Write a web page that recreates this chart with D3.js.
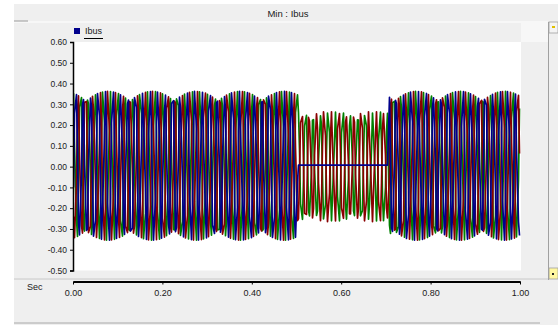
<!DOCTYPE html>
<html>
<head>
<meta charset="utf-8">
<script src="https://cdn.jsdelivr.net/npm/d3@7"></script>
<style>
  html, body { margin: 0; padding: 0; background: #ffffff; }
  svg { display: block; }
  text { font-family: "Liberation Sans", Arial, sans-serif; fill: #202020; }
</style>
</head>
<body>
<svg id="chart" width="558" height="325"></svg>
<script>
// ---------------- data ----------------
const chartTitle = "Min : Ibus";
const legendLabel = "Ibus";
const xAxisName = "Sec";
const xTicks = [0.00, 0.20, 0.40, 0.60, 0.80, 1.00];
const xTickLabels = ["0.00", "0.20", "0.40", "0.60", "0.80", "1.00"];
const yTicks = [0.60, 0.50, 0.40, 0.30, 0.20, 0.10, 0.00, -0.10, -0.20, -0.30, -0.40, -0.50];
const yTickLabels = ["0.60", "0.50", "0.40", "0.30", "0.20", "0.10", "0.00", "-0.10", "-0.20", "-0.30", "-0.40", "-0.50"];

// system frequency (Hz) and the plot's sampling rate of the trace (samples/s)
const freqHz = 60;
const plotSampleRate = 349.85;

// segments: pre-fault, open blue phase, post-fault (start times, s)
const segmentStart = [0.000, 0.501, 0.705];
// per-segment peak amplitude (kA), phase angle (deg) and dc offset (kA)
const ampRed     = [0.358, 0.265, 0.358];
const ampGreen   = [0.358, 0.262, 0.358];
const ampBlue    = [0.358, 0.000, 0.358];
const angleRed   = [-137, -137, -137];
const angleGreen = [103,   33,  103];
const angleBlue  = [-17,    0,  -17];
const offsetRed   = [0.004, 0.000, 0.004];
const offsetGreen = [0.004, 0.000, 0.004];
const offsetBlue  = [0.004, 0.007, 0.004];

const seriesColors = { red: "#8a0000", green: "#008000", blue: "#00008c" };

// ---------------- layout ----------------
const svg = d3.select("#chart");
const plot = { left: 73, right: 520, top: 42, bottom: 270.5 };

const x = d3.scaleLinear().domain([0, 1]).range([plot.left, plot.right]);
const y = d3.scaleLinear().domain([-0.5, 0.6]).range([plot.bottom, plot.top]);

// panel background
svg.append("rect").attr("x", 14).attr("y", 4).attr("width", 544).attr("height", 321).attr("fill", "#efefef");
svg.append("line").attr("x1", 14).attr("x2", 548).attr("y1", 22).attr("y2", 22).attr("stroke", "#ffffff").attr("stroke-width", 1);
svg.append("line").attr("x1", 14).attr("x2", 28).attr("y1", 21).attr("y2", 21).attr("stroke", "#9a9a9a").attr("stroke-width", 1);
svg.append("rect").attr("x", 521).attr("y", 22.5).attr("width", 27).attr("height", 19.5).attr("fill", "#f7f7f7");

// title
svg.append("text").attr("x", 288).attr("y", 14).attr("text-anchor", "middle")
  .attr("dominant-baseline", "middle").attr("font-size", 9.5).text(chartTitle);

// plot area
svg.append("rect").attr("x", plot.left).attr("y", plot.top)
  .attr("width", plot.right - plot.left + 1).attr("height", plot.bottom - plot.top)
  .attr("fill", "#ffffff");

// legend
svg.append("rect").attr("x", 74).attr("y", 28).attr("width", 6).attr("height", 6).attr("fill", seriesColors.blue);
svg.append("text").attr("x", 85).attr("y", 32).attr("dominant-baseline", "middle")
  .attr("font-size", 9).text(legendLabel);
svg.append("line").attr("x1", 84).attr("x2", 103).attr("y1", 38.5).attr("y2", 38.5)
  .attr("stroke", "#000000").attr("stroke-width", 1);

// scrollbar on the right
svg.append("line").attr("x1", 548.5).attr("x2", 548.5).attr("y1", 22).attr("y2", 280).attr("stroke", "#a0a0a0");
svg.append("rect").attr("x", 549).attr("y", 22).attr("width", 9).attr("height", 11).attr("fill", "#f4f4f4").attr("stroke", "#a0a0a0").attr("stroke-width", 0.8);
svg.append("rect").attr("x", 552).attr("y", 26).attr("width", 3).attr("height", 2).attr("fill", "#e0c000");
svg.append("rect").attr("x", 549).attr("y", 268).attr("width", 9).attr("height", 11).attr("fill", "#fff7a0").attr("stroke", "#a0a0a0").attr("stroke-width", 0.8);
svg.append("rect").attr("x", 552).attr("y", 273).attr("width", 2).attr("height", 2).attr("fill", "#202020");

// bottom separators
svg.append("line").attr("x1", 14).attr("x2", 548).attr("y1", 279).attr("y2", 279).attr("stroke", "#c8c8c8");
svg.append("line").attr("x1", 14).attr("x2", 540).attr("y1", 323).attr("y2", 323).attr("stroke", "#a8a8a8");

// ---------------- waveforms (sampled at the plot rate) ----------------
const segmentOf = t => d3.bisectRight(segmentStart, t) - 1;
const sampleTimes = d3.range(0, Math.floor(plotSampleRate) + 1).map(k => k / plotSampleRate).filter(t => t <= 1);

function trace(amps, angles, offsets) {
  return sampleTimes.map(t => {
    const s = segmentOf(t);
    return [t, offsets[s] + amps[s] * Math.sin(2 * Math.PI * freqHz * t + angles[s] * Math.PI / 180)];
  });
}
const series = [
  { name: "green", data: trace(ampGreen, angleGreen, offsetGreen) },
  { name: "red",   data: trace(ampRed, angleRed, offsetRed) },
  { name: "blue",  data: trace(ampBlue, angleBlue, offsetBlue) }
];

svg.append("clipPath").attr("id", "clip").append("rect")
  .attr("x", plot.left).attr("y", plot.top)
  .attr("width", plot.right - plot.left + 1).attr("height", plot.bottom - plot.top);

// the original plotter snaps samples to whole pixel columns
const line = d3.line().x(d => Math.round(x(d[0])) + 0.5).y(d => y(d[1]));
svg.append("g").attr("clip-path", "url(#clip)")
  .selectAll("path").data(series).join("path")
  .attr("d", d => line(d.data))
  .attr("fill", "none")
  .attr("stroke", d => seriesColors[d.name])
  .attr("stroke-width", 1.7)
  .attr("stroke-linejoin", "round");

// ---------------- axes ----------------
const yAxis = d3.axisLeft(y).tickValues(yTicks).tickSize(3).tickPadding(3)
  .tickFormat((d, i) => yTickLabels[i]);
const gy = svg.append("g").attr("transform", `translate(${plot.left},0)`).call(yAxis);
gy.select(".domain").attr("stroke", "#000").attr("stroke-width", 1.5);
gy.selectAll(".tick line").attr("stroke", "#000");
gy.selectAll(".tick text").attr("font-size", 8.5).attr("font-family", "Liberation Sans, Arial, sans-serif").attr("fill", "#303040");

const xAxis = d3.axisBottom(x).tickValues(xTicks).tickSize(3).tickSizeOuter(0).tickPadding(5)
  .tickFormat((d, i) => xTickLabels[i]);
const gx = svg.append("g").attr("transform", `translate(0,281.5)`).call(xAxis);
gx.select(".domain").attr("stroke", "#000").attr("stroke-width", 2);
gx.selectAll(".tick line").attr("stroke", "#000");
gx.selectAll(".tick text").attr("font-size", 9).attr("font-family", "Liberation Sans, Arial, sans-serif").attr("fill", "#303040");

svg.append("text").attr("x", 27).attr("y", 288).attr("dominant-baseline", "middle")
  .attr("font-size", 9).text(xAxisName);
</script>
</body>
</html>
